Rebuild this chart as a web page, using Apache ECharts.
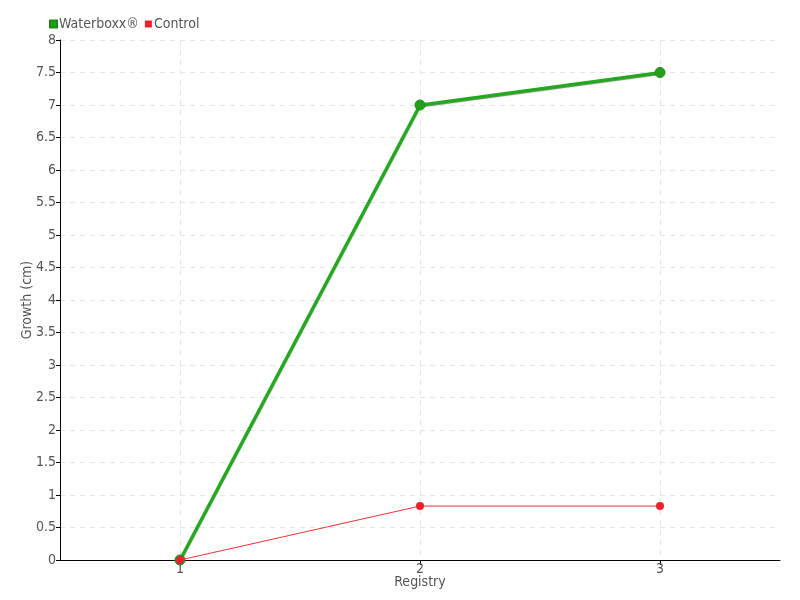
<!DOCTYPE html>
<html><head><meta charset="utf-8">
<script src="https://cdn.jsdelivr.net/npm/echarts@6/dist/echarts.min.js"></script>
<style>html,body{margin:0;padding:0;background:#fff}#c{width:800px;height:600px}</style>
</head><body><div id="c"></div>
<script>
const categories = ['1', '2', '3'];
const waterboxx = [0, 7, 7.5];
const control = [0, 0.83, 0.83];
const seriesNames = ['Waterboxx®', 'Control'];
const FONT = '"DejaVu Sans Condensed", "Liberation Sans Narrow", sans-serif';

// Half-step padded axis so that split lines fall on category centres
const axisData = [];
categories.forEach((c, i) => { axisData.push(' '.repeat(i + 1) + '_pad'); axisData.push(c); });
axisData.push(' '.repeat(categories.length + 1) + '_pad');
const isReal = (idx) => idx % 2 === 1;

const chart = echarts.init(document.getElementById('c'));
chart.setOption({
  animation: false,
  textStyle: { fontFamily: FONT },
  legend: {
    left: 44, top: 12, itemWidth: 7, itemHeight: 7, itemGap: 6,
    icon: 'rect',
    textStyle: { fontFamily: FONT, fontSize: 14, color: '#555', padding: [0,0,0,-3] },
    data: seriesNames
  },
  grid: { left: 60, right: 20, top: 40, bottom: 40 },
  xAxis: {
    type: 'category', data: axisData, boundaryGap: false,
    name: 'Registry', nameLocation: 'middle', nameGap: 15, nameMoveOverlap: false,
    nameTextStyle: { fontFamily: FONT, fontSize: 14, color: '#555' },
    axisLine: { lineStyle: { color: '#000' } },
    axisTick: { interval: (i) => isReal(i), length: 5, lineStyle: { color: '#000' } },
    axisLabel: { interval: (i) => isReal(i), fontFamily: FONT, fontSize: 14, color: '#555', margin: 2 },
    splitLine: { show: true, interval: (i) => isReal(i), lineStyle: { type: [5, 5], color: '#e4e4e4' } }
  },
  yAxis: {
    type: 'value', min: 0, max: 8, interval: 0.5,
    name: 'Growth (cm)', nameLocation: 'middle', nameGap: 26, nameMoveOverlap: false,
    nameTextStyle: { fontFamily: FONT, fontSize: 14, color: '#555' },
    axisLine: { show: true, lineStyle: { color: '#000' } },
    axisTick: { show: true, length: 4, lineStyle: { color: '#000' } },
    axisLabel: { fontFamily: FONT, fontSize: 14, color: '#555', margin: 4 },
    splitLine: { show: true, lineStyle: { type: [5, 5], color: '#e4e4e4' } }
  },
  series: [
    {
      name: seriesNames[0], type: 'line',
      data: categories.map((c, i) => [c, waterboxx[i]]),
      color: '#22aa1c', symbol: 'circle', symbolSize: 10,
      lineStyle: { width: 3, color: '#22aa1c', shadowColor: 'rgba(20,90,20,0.7)', shadowBlur: 1, shadowOffsetY: 1 },
      itemStyle: { color: '#22a01c', borderColor: '#1c8a18', borderWidth: 1 },
      z: 3
    },
    {
      name: seriesNames[1], type: 'line',
      data: categories.map((c, i) => [c, control[i]]),
      color: '#f0202c', symbol: 'circle', symbolSize: 8,
      lineStyle: { width: 1, color: '#f0303a' },
      itemStyle: { color: '#f0202c' },
      z: 4
    }
  ]
});
</script></body></html>
